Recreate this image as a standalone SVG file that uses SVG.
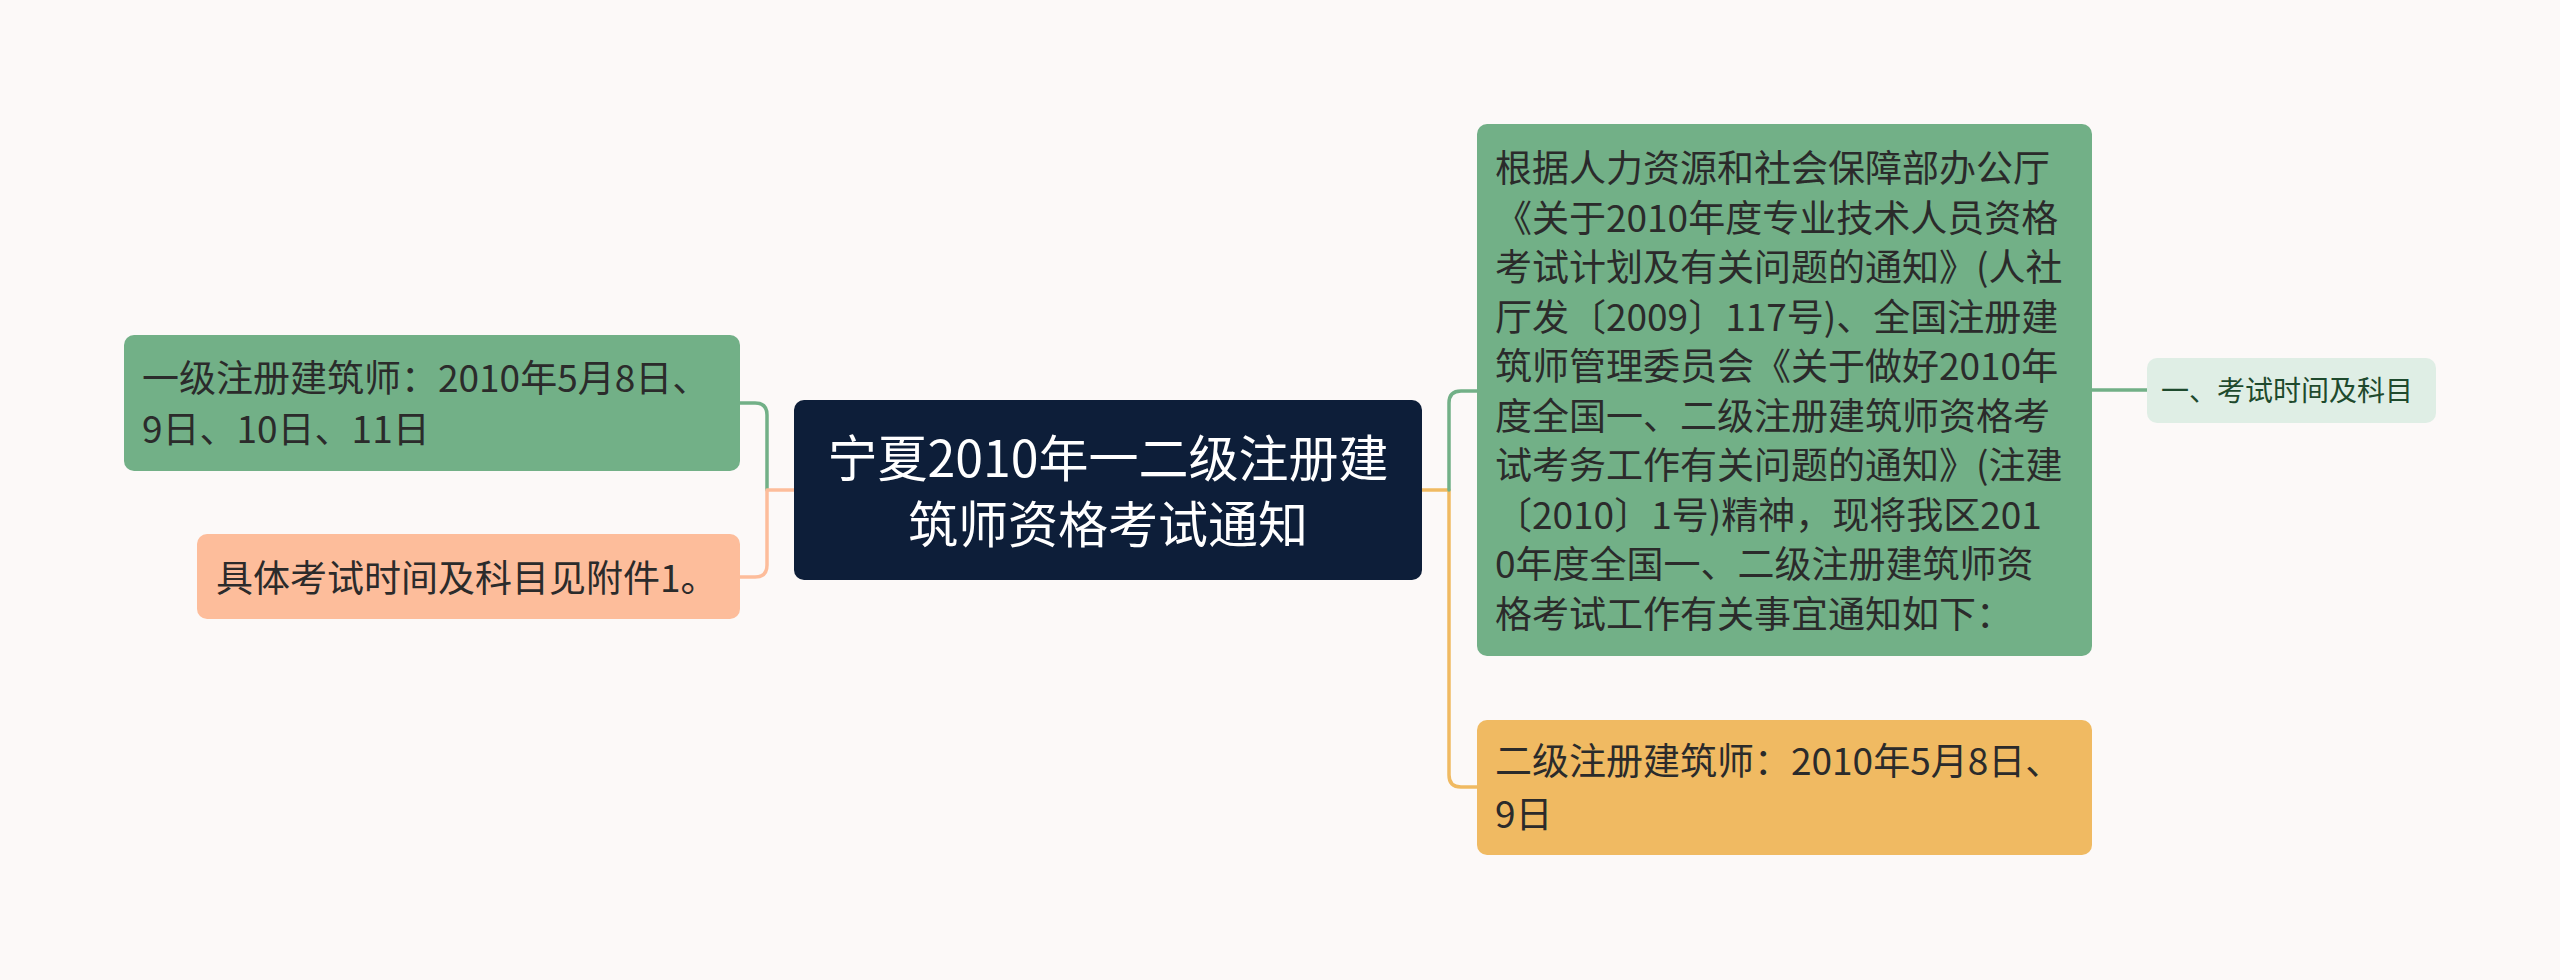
<svg xmlns="http://www.w3.org/2000/svg" width="2560" height="980" viewBox="0 0 2560 980">
<style>
text{font-family:"Noto Sans CJK SC","Noto Sans",sans-serif;}
.t{font-size:37px;fill:#2b2b2b;}
.root{font-size:50px;fill:#ffffff;text-anchor:middle;}
.small{font-size:28px;fill:#1e4a2d;}
.c{fill:none;stroke-width:3.5;stroke-linecap:round;stroke-linejoin:round;}
</style>
<rect x="0" y="0" width="2560" height="980" fill="#fcf9f8"/>
<g id="connectors">
<path class="c" stroke="#72b087" d="M740,403 H755 Q767,403 767,415 V490"/>
<path class="c" stroke="#fdbd9b" d="M794,490 H767 V565 Q767,577 755,577 H740"/>
<path class="c" stroke="#f0ba62" d="M1422,490 H1449 V775 Q1449,787 1461,787 H1477"/>
<path class="c" stroke="#72b087" d="M1449,490 V403 Q1449,391 1461,391 H1477"/>
<path class="c" stroke="#72b087" d="M2092,390 H2147"/>
</g>
<g id="root">
<rect x="794" y="400" width="628" height="180" rx="10" fill="#0d1e39"/>
<text class="root" x="1108" y="477">宁夏2010年一二级注册建</text>
<text class="root" x="1108" y="543">筑师资格考试通知</text>
</g>
<g id="node-yiji">
<rect x="124" y="335" width="616" height="136" rx="10" fill="#72b087"/>
<text class="t" x="142" y="392">一级注册建筑师：2010年5月8日、</text>
<text class="t" x="142" y="443">9日、10日、11日</text>
</g>
<g id="node-fujian">
<rect x="197" y="534" width="543" height="85" rx="10" fill="#fdbd9b"/>
<text class="t" x="216" y="592">具体考试时间及科目见附件1。</text>
</g>
<g id="node-genju">
<rect x="1477" y="124" width="615" height="532" rx="10" fill="#72b087"/>
<text class="t" x="1495" y="182">根据人力资源和社会保障部办公厅</text>
<text class="t" x="1495" y="231.5">《关于2010年度专业技术人员资格</text>
<text class="t" x="1495" y="281">考试计划及有关问题的通知》(人社</text>
<text class="t" x="1495" y="330.5">厅发〔2009〕117号)、全国注册建</text>
<text class="t" x="1495" y="380">筑师管理委员会《关于做好2010年</text>
<text class="t" x="1495" y="429.5">度全国一、二级注册建筑师资格考</text>
<text class="t" x="1495" y="479">试考务工作有关问题的通知》(注建</text>
<text class="t" x="1495" y="528.5">〔2010〕1号)精神，现将我区201</text>
<text class="t" x="1495" y="578">0年度全国一、二级注册建筑师资</text>
<text class="t" x="1495" y="627.5">格考试工作有关事宜通知如下：</text>
</g>
<g id="node-erji">
<rect x="1477" y="720" width="615" height="135" rx="10" fill="#f0ba62"/>
<text class="t" x="1495" y="775">二级注册建筑师：2010年5月8日、</text>
<text class="t" x="1495" y="828">9日</text>
</g>
<g id="node-kaoshi">
<rect x="2147" y="358" width="289" height="65" rx="10" fill="#dfeee5"/>
<text class="small" x="2161" y="401">一、考试时间及科目</text>
</g>
</svg>
